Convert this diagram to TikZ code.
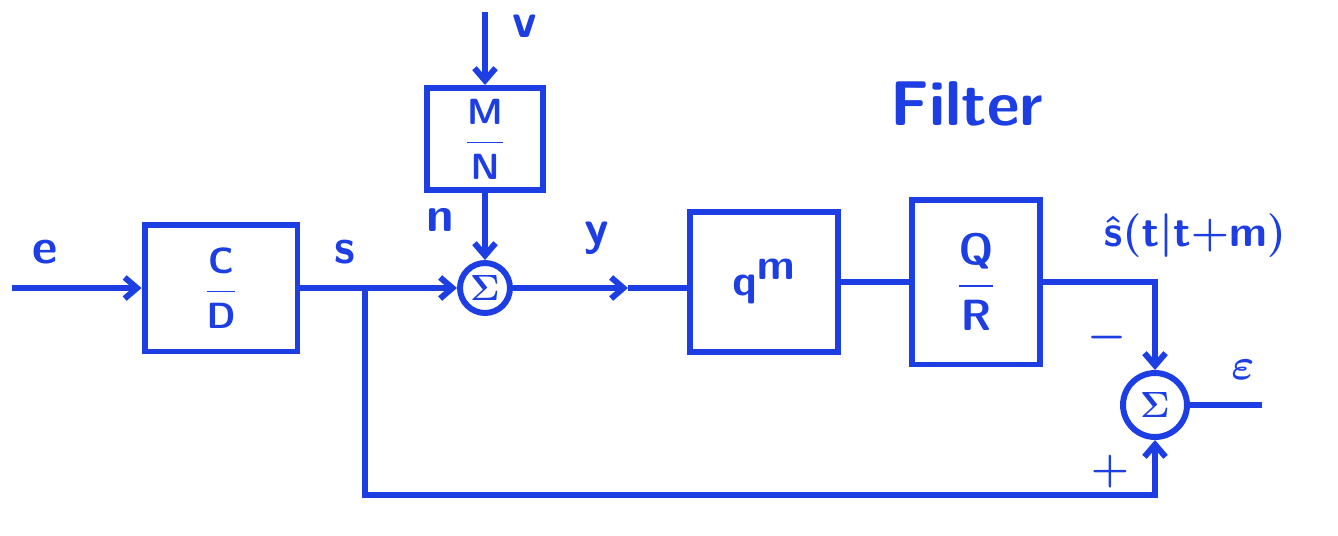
\documentclass[tikz,border=0pt]{standalone}
\usepackage{amsmath}
\usepackage{xcolor}
\usetikzlibrary{positioning,arrows.meta}
\definecolor{marker}{RGB}{28,62,226}
\newcommand{\bigfont}{\fontsize{28}{30}\selectfont\sffamily\bfseries\boldmath}
\newcommand{\fracfont}{\fontsize{22}{24}\selectfont\sffamily\bfseries\boldmath}
\begin{document}
\begin{tikzpicture}[
  x=0.02cm, y=-0.02cm,
  line width=3.4pt, color=marker, text=marker,
  block/.style={draw, inner sep=0pt, font=\fracfont},
  sumnode/.style={draw, circle, inner sep=0pt, font=\fontsize{22}{24}\selectfont\boldmath},
  lbl/.style={font=\bigfont},
  arr/.style={-{Straight Barb[length=7pt,width=12pt]}}
]
\useasboundingbox (0,0) rectangle (1338,535);
% blocks
\node[block, minimum width=3.06cm, minimum height=2.54cm] (cd) at (221,288) {$\dfrac{\mathsf{C}}{\mathsf{D}}$};
\node[block, minimum width=2.32cm, minimum height=2.04cm, font=\fontsize{20}{22}\selectfont\sffamily\bfseries\boldmath] (mn) at (485,139) {$\dfrac{\mathsf{M}}{\mathsf{N}}$};
\node[block, minimum width=2.96cm, minimum height=2.8cm] (qm) at (764,282) {\fontsize{34}{36}\selectfont$\mathsf{q}^{\mathsf{m}}$};
\node[block, minimum width=2.56cm, minimum height=3.3cm, font=\fontsize{25}{27}\selectfont\sffamily\bfseries\boldmath] (qr) at (976,282) {$\dfrac{\mathsf{Q}}{\mathsf{R}}$};
\node[sumnode, minimum size=1.0cm] (sum1) at (485,288) {$\Sigma$};
\node[sumnode, minimum size=1.28cm] (sum2) at (1155,405) {$\Sigma$};
% free ends
\coordinate (ein) at (12,288);
\coordinate (br) at (365,288);
\coordinate (vin) at (485,12);
\coordinate (ymid) at (628,288);
\coordinate (eout) at (1262,405);
% connectors
\draw[arr] (ein) -- (cd);
\draw (cd) -- (br);
\draw[arr] (br) -- (sum1);
\draw[arr] (vin) -- (mn);
\draw[arr] (mn) -- (sum1);
\draw[arr] (sum1) -- (ymid);
\draw (ymid) -- (ymid -| qm.west);
\draw (qm) -- (qr);
\draw[arr] (qr.east) -| (sum2.north);
\draw[arr] (br) -- ++(0,207) -| (sum2.south);
\draw (sum2) -- (eout);
% labels
\node[lbl] (le) at (45,252) {e};
\node[lbl] (ls) at (345,252) {s};
\node[lbl] (ln) at (440,220) {n};
\node[lbl] (lv) at (525,26) {v};
\node[lbl] (ly) at (597,238) {y};
\node[lbl, font=\fontsize{36}{38}\selectfont\sffamily\bfseries] (lfilter) at (967,104) {Filter};
\node[lbl] (lshat) at (1195,236) {$\hat{\mathsf{s}}\mathsf{(t|t{+}m)}$};
\node[lbl] (lminus) at (1107,338) {$-$};
\node[lbl] (lplus) at (1110,472) {$+$};
\node[lbl] (leps) at (1243,370) {$\varepsilon$};
\end{tikzpicture}
\end{document}
